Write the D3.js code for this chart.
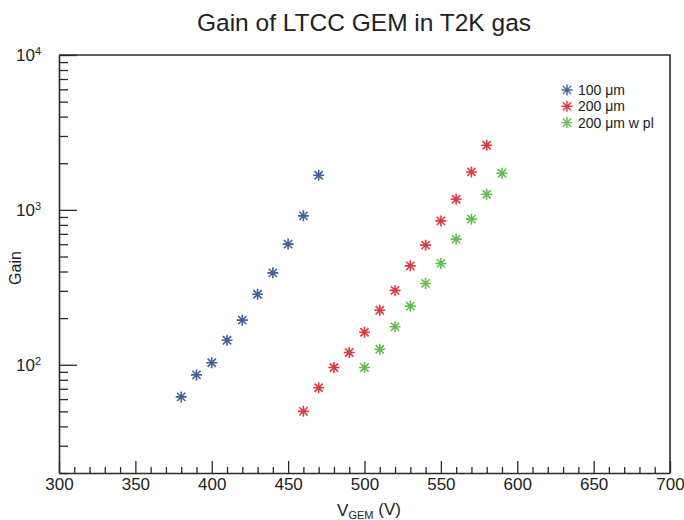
<!DOCTYPE html>
<html>
<head>
<meta charset="utf-8">
<script src="https://cdn.jsdelivr.net/npm/d3@7"></script>
<style>
  body { margin: 0; background: #fff; }
  text { font-family: "Liberation Sans", Arial, sans-serif; fill: #222; }
</style>
</head>
<body>
<div class="chartWrapper"></div>
<script>
// data
var volt100 = [380, 390, 400, 410, 420, 430, 440, 450, 460, 470];
var gain100 = [62, 86, 103, 144, 194, 285, 392, 601, 915, 1674];
var volt200 = [460, 470, 480, 490, 500, 510, 520, 530, 540, 550, 560, 570, 580];
var gain200 = [50, 71, 96, 120, 162, 225, 302, 435, 592, 849, 1172, 1758, 2614];
var volt200pl = [500, 510, 520, 530, 540, 550, 560, 570, 580, 590];
var gain200pl = [96, 126, 176, 239, 335, 451, 647, 871, 1262, 1725];
var seriesNames = ["100 \u03bcm", "200 \u03bcm", "200 \u03bcm w pl"];
var seriesColors = ["#40609e", "#dd3a40", "#62bd52"];
var xMajorTicks = [300, 350, 400, 450, 500, 550, 600, 650, 700];
var yMajorTicks = [100, 1000, 10000];

var width = 684, height = 520;
var margin = { top: 55, right: 14, bottom: 47, left: 59 };

var series = [
    { name: seriesNames[0], color: seriesColors[0], v: volt100, g: gain100 },
    { name: seriesNames[1], color: seriesColors[1], v: volt200, g: gain200 },
    { name: seriesNames[2], color: seriesColors[2], v: volt200pl, g: gain200pl }
];

var svg = d3.select(".chartWrapper").append("svg")
    .attr("width", width)
    .attr("height", height);

var xScale = d3.scaleLinear()
    .domain([300, 700])
    .range([margin.left, width - margin.right]);
var yScale = d3.scaleLog()
    .domain([20, 10000])
    .range([height - margin.bottom, margin.top]);

// minor x ticks every 10
var xMinor = d3.range(300, 701, 10).filter(function (d) { return d % 50 !== 0; });
svg.append("g")
    .attr("transform", "translate(0," + (height - margin.bottom) + ")")
    .call(d3.axisBottom(xScale).tickValues(xMinor).tickSize(-6).tickFormat(""))
    .call(function (g) { g.select(".domain").remove(); });

svg.append("g")
    .attr("class", "xaxis")
    .attr("transform", "translate(0," + (height - margin.bottom) + ")")
    .call(d3.axisBottom(xScale).tickValues(xMajorTicks).tickSizeInner(-12).tickSizeOuter(0).tickPadding(5))
    .call(function (g) { g.selectAll("text").style("font-size", "17px"); });

// minor y ticks
var yMinor = yScale.ticks().filter(function (d) {
    return Math.abs(Math.log10(d) - Math.round(Math.log10(d))) > 1e-6;
});
svg.append("g")
    .attr("transform", "translate(" + margin.left + ",0)")
    .call(d3.axisLeft(yScale).tickValues(yMinor).tickSize(-9).tickFormat(""))
    .call(function (g) { g.select(".domain").remove(); });

var yAxisG = svg.append("g")
    .attr("transform", "translate(" + margin.left + ",0)")
    .call(d3.axisLeft(yScale).tickValues(yMajorTicks).tickSizeInner(-18).tickSizeOuter(0).tickPadding(26).tickFormat(""));
yAxisG.selectAll(".tick text").each(function (d) {
    var t = d3.select(this).style("font-size", "17px").attr("dy", "0.32em");
    t.append("tspan").text("10");
    t.append("tspan").attr("dy", "-0.55em").style("font-size", "11px").text(Math.round(Math.log10(d)));
});
yAxisG.selectAll(".tick text").attr("text-anchor", "start").attr("x", -margin.left + 16);

svg.selectAll(".domain").attr("stroke", "#2a2a2a").attr("stroke-width", 1.6);
svg.selectAll(".tick line").attr("stroke", "#2a2a2a").attr("stroke-width", 1.3);

// frame top and right
svg.append("path")
    .attr("d", "M" + xScale(300) + "," + yScale(10000) + "H" + xScale(700) + "V" + yScale(20))
    .attr("fill", "none")
    .attr("stroke", "#2a2a2a")
    .attr("stroke-width", 1.6);

// star marker
var r = 5.5;
var starPath = "M" + (-r) + ",0H" + r + "M0," + (-r) + "V" + r +
    "M" + (-r * 0.75) + "," + (-r * 0.75) + "L" + (r * 0.75) + "," + (r * 0.75) +
    "M" + (-r * 0.75) + "," + (r * 0.75) + "L" + (r * 0.75) + "," + (-r * 0.75);

series.forEach(function (s) {
    svg.append("g").selectAll("path")
        .data(s.v.map(function (v, i) { return [v, s.g[i]]; }))
        .enter()
        .append("path")
        .attr("transform", function (d) { return "translate(" + xScale(d[0]) + "," + yScale(d[1]) + ")"; })
        .attr("d", starPath)
        .attr("fill", "none")
        .attr("stroke", s.color)
        .attr("stroke-width", 1.6);
});

// legend
var legend = svg.selectAll(".legend")
    .data(series)
    .enter()
    .append("g")
    .attr("transform", function (d, i) { return "translate(567," + (90 + i * 16.3) + ")"; });
legend.append("path")
    .attr("d", starPath)
    .attr("fill", "none")
    .attr("stroke", function (d) { return d.color; })
    .attr("stroke-width", 1.4);
legend.append("text")
    .attr("x", 11)
    .attr("dy", "0.35em")
    .style("font-size", "14px")
    .text(function (d) { return d.name; });

// title and axis labels
svg.append("text")
    .attr("x", 364)
    .attr("y", 31)
    .attr("text-anchor", "middle")
    .style("font-size", "24.5px")
    .text("Gain of LTCC GEM in T2K gas");

svg.append("text")
    .attr("transform", "translate(21,268) rotate(-90)")
    .attr("text-anchor", "middle")
    .style("font-size", "16px")
    .text("Gain");

var xl = svg.append("text")
    .attr("x", 369)
    .attr("y", 516)
    .attr("text-anchor", "middle")
    .style("font-size", "17px");
xl.append("tspan").text("V");
xl.append("tspan").attr("dy", "0.25em").style("font-size", "11px").text("GEM");
xl.append("tspan").attr("dy", "-0.25em").text(" (V)");
</script>
</body>
</html>
